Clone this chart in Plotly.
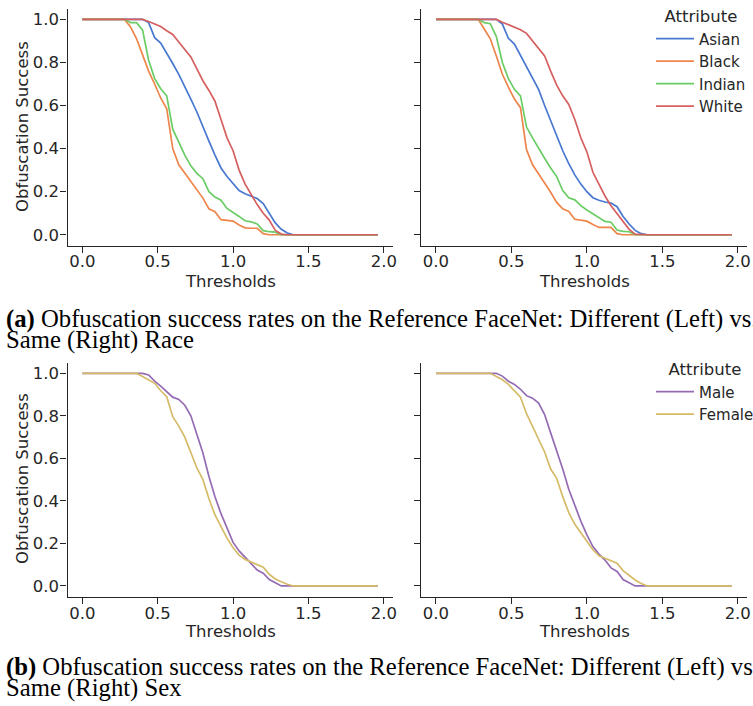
import plotly.graph_objects as go

thresholds = [0.00, 0.04, 0.08, 0.12, 0.16, 0.20, 0.24, 0.28, 0.32, 0.36,
              0.40, 0.44, 0.48, 0.52, 0.56, 0.60, 0.64, 0.68, 0.72, 0.76,
              0.80, 0.84, 0.88, 0.92, 0.96, 1.00, 1.04, 1.08, 1.12, 1.16,
              1.20, 1.24, 1.28, 1.32, 1.36, 1.40, 1.44, 1.48, 1.52, 1.56,
              1.60, 1.64, 1.68, 1.72, 1.76, 1.80, 1.84, 1.88, 1.92, 1.96]

race_left_asian = [1, 1, 1, 1, 1, 1, 1, 1, 1, 1,
                   1, 0.985, 0.915, 0.89, 0.845, 0.795, 0.745, 0.69, 0.63, 0.57,
                   0.50, 0.435, 0.37, 0.31, 0.27, 0.235, 0.205, 0.19, 0.18, 0.168,
                   0.145, 0.10, 0.055, 0.025, 0.008, 0, 0, 0, 0, 0,
                   0, 0, 0, 0, 0, 0, 0, 0, 0, 0]
race_left_black = [1, 1, 1, 1, 1, 1, 1, 1, 0.965, 0.91,
                   0.835, 0.76, 0.70, 0.635, 0.585, 0.40, 0.325, 0.285, 0.245, 0.205,
                   0.17, 0.12, 0.107, 0.07, 0.065, 0.063, 0.045, 0.032, 0.03, 0.03,
                   0.005, 0, 0, 0, 0, 0, 0, 0, 0, 0,
                   0, 0, 0, 0, 0, 0, 0, 0, 0, 0]
race_left_indian = [1, 1, 1, 1, 1, 1, 1, 1, 0.985, 0.985,
                    0.95, 0.81, 0.725, 0.678, 0.645, 0.49, 0.43, 0.37, 0.32, 0.285,
                    0.26, 0.20, 0.175, 0.16, 0.122, 0.105, 0.085, 0.065, 0.06, 0.05,
                    0.019, 0.014, 0.012, 0, 0, 0, 0, 0, 0, 0,
                    0, 0, 0, 0, 0, 0, 0, 0, 0, 0]
race_left_white = [1, 1, 1, 1, 1, 1, 1, 1, 1, 1,
                   1, 0.99, 0.978, 0.967, 0.947, 0.93, 0.895, 0.862, 0.826, 0.77,
                   0.715, 0.67, 0.62, 0.535, 0.45, 0.39, 0.30, 0.235, 0.185, 0.14,
                   0.10, 0.068, 0.02, 0.003, 0, 0, 0, 0, 0, 0,
                   0, 0, 0, 0, 0, 0, 0, 0, 0, 0]

race_right_asian = [1, 1, 1, 1, 1, 1, 1, 1, 1, 1,
                    1, 0.978, 0.912, 0.885, 0.832, 0.78, 0.725, 0.675, 0.60, 0.53,
                    0.455, 0.39, 0.33, 0.278, 0.235, 0.20, 0.172, 0.16, 0.152, 0.147,
                    0.13, 0.085, 0.05, 0.02, 0.005, 0, 0, 0, 0, 0,
                    0, 0, 0, 0, 0, 0, 0, 0, 0, 0]
race_right_black = [1, 1, 1, 1, 1, 1, 1, 1, 0.955, 0.91,
                    0.83, 0.745, 0.685, 0.63, 0.59, 0.395, 0.325, 0.28, 0.24, 0.197,
                    0.15, 0.12, 0.108, 0.072, 0.067, 0.063, 0.047, 0.034, 0.034, 0.034,
                    0.005, 0, 0, 0, 0, 0, 0, 0, 0, 0,
                    0, 0, 0, 0, 0, 0, 0, 0, 0, 0]
race_right_indian = [1, 1, 1, 1, 1, 1, 1, 1, 0.985, 0.98,
                     0.92, 0.80, 0.725, 0.675, 0.645, 0.50, 0.45, 0.40, 0.355, 0.31,
                     0.27, 0.205, 0.172, 0.162, 0.135, 0.115, 0.098, 0.077, 0.062, 0.058,
                     0.022, 0.016, 0.014, 0, 0, 0, 0, 0, 0, 0,
                     0, 0, 0, 0, 0, 0, 0, 0, 0, 0]
race_right_white = [1, 1, 1, 1, 1, 1, 1, 1, 1, 1,
                    1, 0.987, 0.975, 0.966, 0.952, 0.935, 0.90, 0.87, 0.83, 0.76,
                    0.695, 0.645, 0.605, 0.535, 0.45, 0.385, 0.29, 0.235, 0.18, 0.135,
                    0.10, 0.065, 0.025, 0.003, 0, 0, 0, 0, 0, 0,
                    0, 0, 0, 0, 0, 0, 0, 0, 0, 0]

sex_left_male = [1, 1, 1, 1, 1, 1, 1, 1, 1, 1,
                 1, 0.992, 0.963, 0.94, 0.915, 0.888, 0.877, 0.85, 0.80, 0.71,
                 0.625, 0.515, 0.42, 0.34, 0.275, 0.205, 0.165, 0.137, 0.105, 0.075,
                 0.06, 0.03, 0.015, 0, 0, 0, 0, 0, 0, 0,
                 0, 0, 0, 0, 0, 0, 0, 0, 0, 0]
sex_left_female = [1, 1, 1, 1, 1, 1, 1, 1, 1, 1,
                   0.985, 0.97, 0.953, 0.918, 0.89, 0.796, 0.752, 0.70, 0.625, 0.555,
                   0.50, 0.41, 0.334, 0.276, 0.225, 0.18, 0.145, 0.125, 0.112, 0.10,
                   0.088, 0.055, 0.033, 0.02, 0.008, 0, 0, 0, 0, 0,
                   0, 0, 0, 0, 0, 0, 0, 0, 0, 0]
sex_right_male = [1, 1, 1, 1, 1, 1, 1, 1, 1, 1,
                  1, 0.987, 0.963, 0.948, 0.925, 0.895, 0.883, 0.86, 0.806, 0.72,
                  0.64, 0.55, 0.455, 0.375, 0.305, 0.24, 0.185, 0.15, 0.122, 0.085,
                  0.068, 0.03, 0.013, 0, 0, 0, 0, 0, 0, 0,
                  0, 0, 0, 0, 0, 0, 0, 0, 0, 0]
sex_right_female = [1, 1, 1, 1, 1, 1, 1, 1, 1, 1,
                    0.985, 0.97, 0.948, 0.918, 0.888, 0.81, 0.75, 0.695, 0.63, 0.55,
                    0.506, 0.42, 0.345, 0.29, 0.25, 0.21, 0.17, 0.142, 0.13, 0.118,
                    0.107, 0.072, 0.048, 0.028, 0.012, 0, 0, 0, 0, 0,
                    0, 0, 0, 0, 0, 0, 0, 0, 0, 0]

race_names = ["Asian", "Black", "Indian", "White"]
race_colors = ["#4878d0", "#ee854a", "#6acc64", "#d65f5f"]
sex_names = ["Male", "Female"]
sex_colors = ["#956cb4", "#d5bb67"]

caption_a = ["<b>(a)</b> Obfuscation success rates on the Reference FaceNet: Different (Left) vs.",
             "Same (Right) Race"]
caption_b = ["<b>(b)</b> Obfuscation success rates on the Reference FaceNet: Different (Left) vs.",
             "Same (Right) Sex"]

W, H = 753, 706
TXT = "#262626"
FONT = "DejaVu Sans"

fig = go.Figure()

panels = [
    ("x", "y", [race_left_asian, race_left_black, race_left_indian, race_left_white], race_names, race_colors, False, "legend"),
    ("x2", "y2", [race_right_asian, race_right_black, race_right_indian, race_right_white], race_names, race_colors, True, "legend"),
    ("x3", "y3", [sex_left_male, sex_left_female], sex_names, sex_colors, False, "legend2"),
    ("x4", "y4", [sex_right_male, sex_right_female], sex_names, sex_colors, True, "legend2"),
]
for xa, ya, series, names, colors, show, leg in panels:
    for vals, name, col in zip(series, names, colors):
        fig.add_trace(go.Scatter(x=thresholds, y=vals, mode="lines", name=name,
                                 line=dict(color=col, width=1.7),
                                 xaxis=xa, yaxis=ya, showlegend=show, legend=leg))

def px_x(p):
    return p / W

def px_y(p):
    return 1 - p / H

xdom_l = [px_x(67.5), px_x(392.6)]
xdom_r = [px_x(421.2), px_x(746.5)]
ydom_t = [px_y(245.5), px_y(8.6)]
ydom_b = [px_y(596.6), px_y(362.7)]

common = dict(showline=True, linecolor=TXT, linewidth=1.25, ticks="outside", ticklen=6,
              tickwidth=1.25, tickcolor=TXT, showgrid=False, zeroline=False,
              tickfont=dict(family=FONT, size=16.5, color=TXT))
xcommon = dict(common, range=[-0.098, 2.058], tickvals=[0, 0.5, 1.0, 1.5, 2.0],
               ticktext=["0.0", "0.5", "1.0", "1.5", "2.0"], ticklabelstandoff=-5)
ycommon = dict(common, range=[-0.05, 1.05], tickvals=[0, 0.2, 0.4, 0.6, 0.8, 1.0],
               ticktext=["0.0", "0.2", "0.4", "0.6", "0.8", "1.0"], ticklabelstandoff=-2)

leg_common = dict(xanchor="left", yanchor="top",
                  font=dict(size=15, family=FONT, color=TXT), bgcolor="rgba(0,0,0,0)",
                  tracegroupgap=0, itemwidth=38)
fig.update_layout(
    width=W, height=H, autosize=False,
    margin=dict(l=0, r=0, t=0, b=0, pad=0, autoexpand=False),
    paper_bgcolor="white", plot_bgcolor="white",
    font=dict(family=FONT, color=TXT),
    xaxis=dict(xcommon, domain=xdom_l, anchor="y"),
    yaxis=dict(ycommon, domain=ydom_t, anchor="x"),
    xaxis2=dict(xcommon, domain=xdom_r, anchor="y2"),
    yaxis2=dict(ycommon, domain=ydom_t, anchor="x2", showticklabels=False),
    xaxis3=dict(xcommon, domain=xdom_l, anchor="y3"),
    yaxis3=dict(ycommon, domain=ydom_b, anchor="x3"),
    xaxis4=dict(xcommon, domain=xdom_r, anchor="y4"),
    yaxis4=dict(ycommon, domain=ydom_b, anchor="x4", showticklabels=False),
    legend=dict(leg_common, x=px_x(651), y=px_y(1),
                title=dict(text="Attribute", side="top center",
                           font=dict(size=16.5, family=FONT, color=TXT))),
    legend2=dict(leg_common, x=px_x(651), y=px_y(354),
                 title=dict(text="Attribute", side="top center",
                            font=dict(size=16.5, family=FONT, color=TXT))),
)

ann = []
def label(text, x, y, angle=0, size=16.5, fam=FONT, xanchor="center"):
    ann.append(dict(text=text, x=x, y=y, xref="paper", yref="paper", showarrow=False,
                    xanchor=xanchor, yanchor="middle", textangle=angle,
                    font=dict(size=size, family=fam, color=TXT if fam == FONT else "black")))

label("Thresholds", px_x(230), px_y(281))
label("Thresholds", px_x(584), px_y(281))
label("Thresholds", px_x(230), px_y(631))
label("Thresholds", px_x(584), px_y(631))
label("Obfuscation Success", px_x(22), px_y(127), angle=-90)
label("Obfuscation Success", px_x(22), px_y(479), angle=-90)

SERIF = "Liberation Serif"
CS = 24.7
label(caption_a[0], px_x(4), px_y(319), size=CS, fam=SERIF, xanchor="left")
label(caption_a[1], px_x(4), px_y(340), size=CS, fam=SERIF, xanchor="left")
label(caption_b[0], px_x(4), px_y(667), size=CS, fam=SERIF, xanchor="left")
label(caption_b[1], px_x(4), px_y(688), size=CS, fam=SERIF, xanchor="left")

fig.update_layout(annotations=ann)
fig.write_html("out.html", config={"displayModeBar": False},
               post_script="document.body.style.margin='0';document.body.style.padding='0';document.body.style.overflow='hidden';")
